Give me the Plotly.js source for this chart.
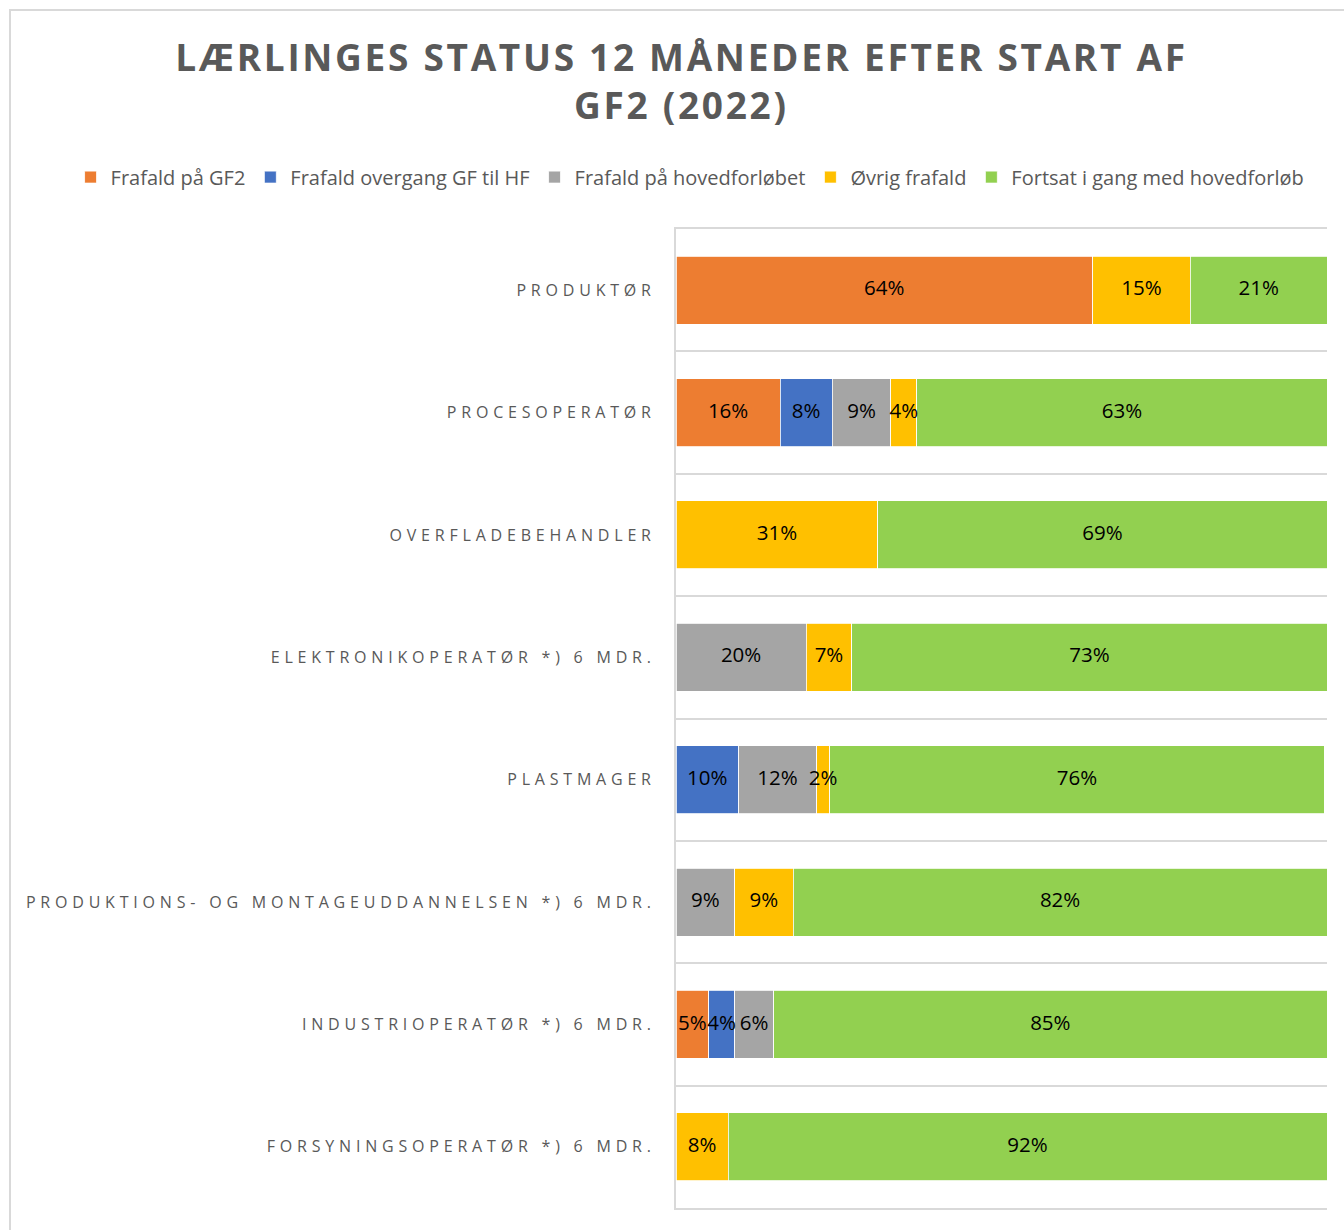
<!DOCTYPE html>
<html>
<head>
<meta charset="utf-8">
<script src="https://cdn.plot.ly/plotly-3.0.1.min.js"></script>
<style>
  html, body { margin: 0; padding: 0; background: #fff; }
  #frame { position: absolute; left: 9px; top: 9px; width: 1400px; height: 1300px;
           border-left: 2px solid #d9d9d9; border-top: 2px solid #d9d9d9; pointer-events: none; z-index: 5; }
  #chart { position: absolute; left: 0; top: 0; width: 1344px; height: 1230px; }
  .gtitle { letter-spacing: 2.7px; }
  .ytick text { letter-spacing: 4.8px; }
</style>
</head>
<body>
<div id="chart"></div>
<div id="frame"></div>
<script>
const categories = [
  "PRODUKTØR",
  "PROCESOPERATØR",
  "OVERFLADEBEHANDLER",
  "ELEKTRONIKOPERATØR *) 6 MDR.",
  "PLASTMAGER",
  "PRODUKTIONS- OG MONTAGEUDDANNELSEN *) 6 MDR.",
  "INDUSTRIOPERATØR *) 6 MDR.",
  "FORSYNINGSOPERATØR *) 6 MDR."
];
const seriesNames = [
  "Frafald på GF2",
  "Frafald overgang GF til HF",
  "Frafald på hovedforløbet",
  "Øvrig frafald",
  "Fortsat i gang med hovedforløb"
];
const frafaldGF2      = [0.64, 0.16, null, null, null,  null, 0.05, null];
const frafaldOvergang = [null, 0.08, null, null, 0.096, null, 0.04, null];
const frafaldHoved    = [null, 0.09, null, 0.20, 0.12,  0.09, 0.06, null];
const oevrigFrafald   = [0.15, 0.04, 0.31, 0.07, 0.02,  0.09, null, 0.08];
const fortsat         = [0.21, 0.63, 0.69, 0.73, 0.76,  0.82, 0.85, 0.92];
const colors = ["#ED7D31", "#4472C4", "#A5A5A5", "#FFC000", "#92D050"];

const seriesValues = [frafaldGF2, frafaldOvergang, frafaldHoved, oevrigFrafald, fortsat];

const barTraces = seriesValues.map((vals, i) => ({
  type: "bar",
  orientation: "h",
  name: seriesNames[i],
  y: categories,
  x: vals,
  marker: { color: colors[i], line: { color: "#ffffff", width: 0.8 } },
  hoverinfo: "skip"
}));

// data labels on top of all bars, at the middle of each segment
const cumulative = categories.map(() => 0);
const labelTraces = seriesValues.map((vals) => {
  const xs = [], ys = [], ts = [];
  vals.forEach((v, j) => {
    if (v === null || v === undefined) return;
    xs.push(cumulative[j] + v / 2);
    ys.push(categories[j]);
    ts.push(Math.round(v * 100) + "%");
    cumulative[j] += v;
  });
  return {
    type: "scatter",
    mode: "text",
    x: xs, y: ys, text: ts,
    textposition: "middle center",
    textfont: { family: "Open Sans, sans-serif", size: 20.5, color: "#000000" },
    cliponaxis: false,
    showlegend: false,
    hoverinfo: "skip"
  };
});

const layout = {
  width: 1344,
  height: 1230,
  margin: { l: 676, r: 17, t: 229, b: 22, autoexpand: false },
  paper_bgcolor: "#ffffff",
  plot_bgcolor: "#ffffff",
  barmode: "stack",
  bargap: 0.445,
  font: { family: "Open Sans, sans-serif", color: "#595959" },
  title: {
    text: "LÆRLINGES STATUS 12 MÅNEDER EFTER START AF<br>GF2 (2022)",
    font: { family: "Open Sans, sans-serif", size: 37, color: "#595959", weight: "bold" },
    xref: "container", x: 0.507, xanchor: "center",
    yref: "container", y: 0.942, yanchor: "top"
  },
  legend: {
    orientation: "h",
    xref: "paper", x: -0.93, xanchor: "left",
    yref: "paper", y: 1.053, yanchor: "middle",
    font: { family: "Open Sans, sans-serif", size: 20, color: "#595959" },
    itemwidth: 30,
    tracegroupgap: 0,
    traceorder: "normal"
  },
  xaxis: {
    range: [0, 1],
    showgrid: false,
    zeroline: false,
    showticklabels: false,
    showline: true,
    mirror: true,
    linecolor: "#d9d9d9",
    linewidth: 2,
    fixedrange: true
  },
  yaxis: {
    type: "category",
    autorange: "reversed",
    tickson: "boundaries",
    showgrid: true,
    gridcolor: "#d9d9d9",
    gridwidth: 2,
    showline: true,
    linecolor: "#d9d9d9",
    linewidth: 2,
    ticks: "",
    ticklabelstandoff: 15,
    tickfont: { family: "Open Sans, sans-serif", size: 16, color: "#595959" },
    fixedrange: true
  },
  showlegend: true
};

Plotly.newPlot("chart", barTraces.concat(labelTraces), layout, { displayModeBar: false, staticPlot: true });
</script>
</body>
</html>
